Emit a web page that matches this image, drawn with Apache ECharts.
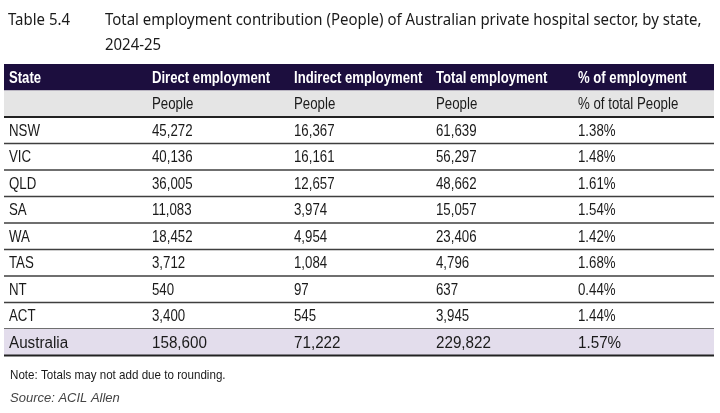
<!DOCTYPE html>
<html>
<head>
<meta charset="utf-8">
<script src="https://cdn.jsdelivr.net/npm/echarts@6/dist/echarts.min.js"></script>
<style>
  html, body { margin: 0; padding: 0; background: #fff; }
  #chart { width: 720px; height: 413px; }
</style>
</head>
<body>
<div id="chart"></div>
<script>
// Table 5.4 - employment contribution of private hospitals, by state
var headers = ['State', 'Direct employment', 'Indirect employment', 'Total employment', '% of employment'];
var units = ['', 'People', 'People', 'People', '% of total People'];
var states = ['NSW', 'VIC', 'QLD', 'SA', 'WA', 'TAS', 'NT', 'ACT'];
var direct = [45272, 40136, 36005, 11083, 18452, 3712, 540, 3400];
var indirect = [16367, 16161, 12657, 3974, 4954, 1084, 97, 545];
var total = [61639, 56297, 48662, 15057, 23406, 4796, 637, 3945];
var share = [1.38, 1.48, 1.61, 1.54, 1.42, 1.68, 0.44, 1.44];
var totalRow = ['Australia', 158600, 71222, 229822, 1.57];

var rows = ['head', 'unit'].concat(states, ['Australia']);
var fmt = echarts.format.addCommas;

// build cell list: [col, row, text, kind]
var cells = [];
headers.forEach(function (h, c) { cells.push([c, 0, h, 'head']); });
units.forEach(function (u, c) { if (u) cells.push([c, 1, u, 'body']); });
states.forEach(function (s, i) {
  var r = i + 2;
  cells.push([0, r, s, 'body']);
  cells.push([1, r, fmt(direct[i]), 'body']);
  cells.push([2, r, fmt(indirect[i]), 'body']);
  cells.push([3, r, fmt(total[i]), 'body']);
  cells.push([4, r, share[i].toFixed(2) + '%', 'body']);
});
totalRow.forEach(function (v, c) {
  var t = c === 0 ? v : (c === 4 ? v.toFixed(2) + '%' : fmt(v));
  cells.push([c, rows.length - 1, t, 'sum']);
});

var rowFill = { 0: '#1c0e3e', 1: '#e5e5e5' };
rowFill[rows.length - 1] = '#e3ddec';

// narrow look: no condensed font installed, so squeeze horizontally
var cellStyle = {
  head: { font: 'bold 16px "Liberation Sans", Arial, sans-serif', sx: 0.82, fill: '#ffffff' },
  body: { font: '17px "Liberation Sans", Arial, sans-serif', sx: 0.78, fill: '#1a1a1a' },
  sum: { font: '16px "Liberation Sans", Arial, sans-serif', sx: 0.95, fill: '#1a1a1a' }
};

function renderRow(params, api) {
  var r = api.value(0);
  var p = api.coord([0, r]);
  var s = api.size([1, 1]);
  var x0 = p[0] - s[0] / 2;
  var w = s[0] * headers.length;
  var y0 = p[1] - s[1] / 2;
  var kids = [];
  if (rowFill[r]) {
    kids.push({ type: 'rect', shape: { x: x0, y: y0, width: w, height: s[1] }, style: { fill: rowFill[r] } });
  }
  if (r >= 1) {
    var heavy = r === 1 || r === rows.length - 1;
    var yb = y0 + s[1];
    kids.push({
      type: 'line',
      shape: { x1: x0, y1: yb, x2: x0 + w, y2: yb },
      style: { stroke: heavy ? '#222' : '#3f3f3f', lineWidth: heavy ? 2 : 1.5 }
    });
  }
  return { type: 'group', children: kids };
}

function renderCell(params, api) {
  var c = api.value(0);
  var p = api.coord([c, api.value(1)]);
  var s = api.size([1, 1]);
  var cell = cells[params.dataIndex];
  var st = cellStyle[cell[3]];
  var pad = c === 0 ? 5 : 6;
  return {
    type: 'text',
    x: p[0] - s[0] / 2 + pad,
    y: p[1] + 1,
    scaleX: st.sx,
    style: {
      text: cell[2],
      font: st.font,
      fill: st.fill,
      verticalAlign: 'middle',
      align: 'left'
    }
  };
}

function label(txt, left, top, font, sx, fill, lh) {
  return {
    type: 'text', left: left, top: top, scaleX: sx,
    style: { text: txt, font: font, fill: fill, lineHeight: lh }
  };
}

var chart = echarts.init(document.getElementById('chart'));
chart.setOption({
  animation: false,
  graphic: [
    label('Table 5.4', 8, 8, '17px "Noto Sans", sans-serif', 0.88, '#1a1a1a', 25),
    label('Total employment contribution (People) of Australian private hospital sector, by state,\n2024-25',
      105, 8, '17px "Noto Sans", sans-serif', 0.88, '#1a1a1a', 25),
    label('Note: Totals may not add due to rounding.', 10, 367, '13.5px "Liberation Sans", sans-serif', 0.86, '#1a1a1a', 16),
    label('Source: ACIL Allen', 10, 390, 'italic 13px "Liberation Sans", sans-serif', 1, '#444444', 16)
  ],
  grid: { left: 4, right: 6, top: 64, bottom: 57.5 },
  xAxis: { type: 'category', data: headers, show: false, boundaryGap: true },
  yAxis: { type: 'category', data: rows, show: false, inverse: true, boundaryGap: true },
  series: [
    {
      type: 'custom',
      renderItem: renderRow,
      encode: { y: 0 },
      data: rows.map(function (r, i) { return [i]; }),
      silent: true
    },
    {
      type: 'custom',
      renderItem: renderCell,
      encode: { x: 0, y: 1 },
      data: cells.map(function (c) { return [c[0], c[1]]; }),
      silent: true,
      z: 3
    }
  ]
});
</script>
</body>
</html>
